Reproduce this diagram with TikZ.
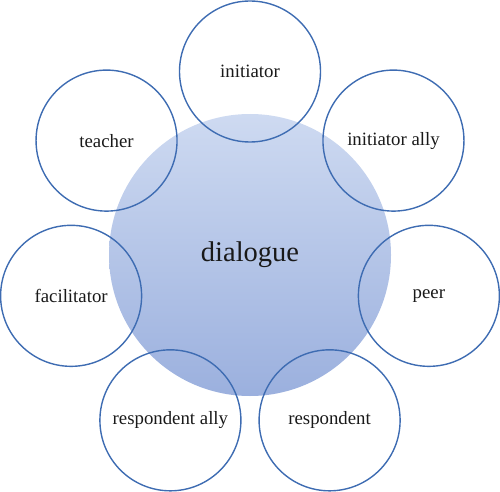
\documentclass[tikz,border=0pt]{standalone}
\usepackage{fontspec}
\setmainfont{Liberation Serif}
\definecolor{rolebd}{RGB}{62,108,178}
\definecolor{hubtop}{RGB}{206,218,241}
\definecolor{hubbot}{RGB}{155,176,222}
\tikzset{
  hub/.style={circle, minimum size=282pt, inner sep=0pt,
    top color=hubtop, bottom color=hubbot, text=black!90,
    font=\fontsize{28.5}{30}\selectfont},
  role/.style={circle, draw=rolebd, line width=1.4pt, minimum size=141pt,
    inner sep=0pt, text=black!90, font=\fontsize{18.8}{20}\selectfont}
}
\begin{document}
\begin{tikzpicture}[x=1pt,y=1pt]
  \useasboundingbox (0,0) rectangle (500,491);
  \def\hubcenter{(250,236)}
  % central circle
  \node[hub] (dialogue) at \hubcenter {dialogue};
  % the seven roles round it
  \foreach \name/\ang/\txt in {initiator/90/initiator,
      inally/38.57/initiator ally,
      peer/-12.86/peer,
      respondent/-64.29/respondent,
      resally/-115.71/respondent ally,
      facilitator/-167.14/facilitator,
      teacher/141.43/teacher}
    \node[role] (\name) at ([shift={(\ang:183.5)}]dialogue.center) {\txt};
\end{tikzpicture}
\end{document}
